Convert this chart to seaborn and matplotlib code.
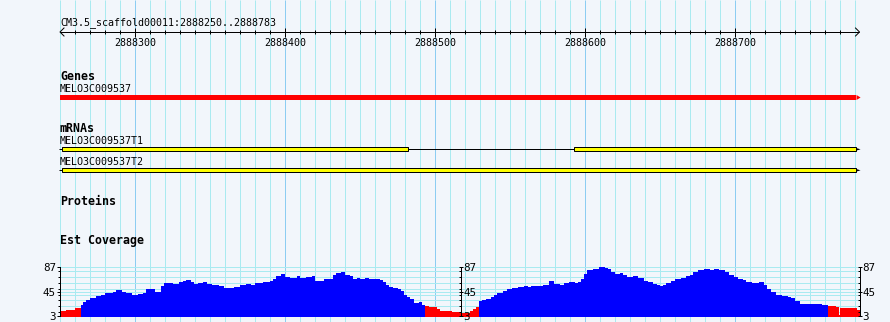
import numpy as np
import pandas as pd
import matplotlib
matplotlib.use("Agg")
import matplotlib.pyplot as plt
from matplotlib.ticker import FixedLocator
import seaborn as sns

# ---------------- data ----------------
region_name = "CM3.5_scaffold00011"
view_start = 2888250
view_end = 2888783
ruler_major = [2888300, 2888400, 2888500, 2888600, 2888700]

track_titles = ["Genes", "mRNAs", "Proteins", "Est Coverage"]

gene_name = "MELO3C009537"
gene_span = [2888250, 2888783]

mrna_names = ["MELO3C009537T1", "MELO3C009537T2"]
mrna_span = [[2888250, 2888783], [2888250, 2888783]]
mrna_exon_starts = [[2888251, 2888593], [2888251]]
mrna_exon_ends = [[2888484, 2888783], [2888783]]

# EST coverage as bedGraph-like steps (segment start, coverage)
cov_start = [
    2888250, 2888254, 2888260, 2888264, 2888265, 2888267, 2888270, 2888274, 2888277, 2888280,
    2888285, 2888287, 2888291, 2888294, 2888298, 2888302, 2888305, 2888307, 2888311, 2888313,
    2888317, 2888319, 2888325, 2888329, 2888332, 2888334, 2888337, 2888339, 2888342, 2888345,
    2888348, 2888351, 2888356, 2888359, 2888366, 2888370, 2888374, 2888377, 2888380, 2888385,
    2888390, 2888392, 2888394, 2888397, 2888400, 2888403, 2888408, 2888410, 2888414, 2888418,
    2888420, 2888423, 2888426, 2888429, 2888432, 2888434, 2888437, 2888440, 2888443, 2888445,
    2888448, 2888450, 2888453, 2888456, 2888463, 2888465, 2888467, 2888469, 2888472, 2888475,
    2888477, 2888479, 2888481, 2888483, 2888486, 2888489, 2888491, 2888493, 2888496, 2888499,
    2888501, 2888503, 2888511, 2888517, 2888523, 2888525, 2888527, 2888529, 2888531, 2888534,
    2888537, 2888539, 2888541, 2888545, 2888548, 2888551, 2888555, 2888559, 2888562, 2888564,
    2888568, 2888572, 2888576, 2888579, 2888583, 2888586, 2888589, 2888593, 2888595, 2888597,
    2888599, 2888601, 2888605, 2888609, 2888613, 2888615, 2888617, 2888620, 2888623, 2888625,
    2888628, 2888632, 2888635, 2888639, 2888642, 2888645, 2888648, 2888650, 2888652, 2888654,
    2888657, 2888660, 2888664, 2888667, 2888670, 2888672, 2888675, 2888679, 2888683, 2888686,
    2888689, 2888693, 2888696, 2888699, 2888702, 2888705, 2888707, 2888711, 2888716, 2888719,
    2888721, 2888724, 2888727, 2888731, 2888735, 2888737, 2888740, 2888743, 2888758, 2888762,
    2888767, 2888769, 2888770, 2888781,
]
cov_value = [
    12, 13, 17, 22, 27, 30, 33.5, 37, 40, 43,
    44.5, 48, 45, 42, 40, 41.5, 43, 49, 50, 45,
    55, 60, 58, 61, 63, 65, 62, 58, 60, 62,
    58, 56.5, 54, 51, 53.5, 56.5, 58, 56.5, 59.5, 61,
    63, 67.4, 72, 75, 71, 68.5, 72, 68.5, 69.5, 72,
    62.8, 64, 66, 67.4, 74.3, 77.7, 79, 74.3, 72, 67.4,
    68.5, 66.3, 68.5, 66.3, 64.5, 61.6, 57, 53, 51.5, 50,
    45.6, 38.7, 35.8, 31.8, 26, 27, 21.5, 20, 18.5, 19.2,
    15.6, 11.6, 9.5, 8, 11, 15.6, 18.5, 28.3, 30, 33,
    36.5, 38.7, 42.7, 45.6, 49, 51.3, 52.5, 54.2, 53, 55,
    54.2, 57, 62.8, 59, 57, 60, 61, 60.4, 61, 67.4,
    76, 81.8, 84.6, 87, 86, 84, 78.9, 76, 77.5, 73.2,
    70.3, 71.5, 68.5, 63.4, 62, 58.7, 56, 54.7, 57, 60,
    62.8, 67.4, 68, 72, 74, 78.9, 81.8, 84.6, 81.8, 84.6,
    82, 78.9, 73.2, 70.3, 67.4, 64.5, 61.6, 60.5, 61.6, 57,
    50, 44.4, 39.8, 37, 36, 34, 28.3, 24.2, 22.5, 19.7,
    18.5, 5, 16.8, 13,
]
cov_end = 2888783
cov_axis_pos = [2888250, 2888517, 2888783]
cov_ticks = [3, 45, 87]
cov_minor = [10, 20, 30, 40, 50, 60, 70, 80]
cov_pivot = 21

# ---------------- styling / layout ----------------
W, H, DPI = 890, 322, 100
PXW = 0.72                      # one pixel in points
BP_PER_PX = 1 / 1.5
LEFT_PX = 60
BG = "#F2F6FB"
GRID_MINOR = "#A9EAF0"
GRID_MAJOR = "#8CCDF2"
RED = "#FF0000"
BLUE = "#0000FF"
YELLOW = "#FFFF00"
FS = 7.18
FSB = 8.37

plt.rcParams["font.family"] = ["DejaVu Sans Mono", "DejaVu Sans"]

x0 = view_start - LEFT_PX * BP_PER_PX
x1 = x0 + W * BP_PER_PX
b = BP_PER_PX

fig = plt.figure(figsize=(W / DPI, H / DPI), dpi=DPI)
fig.patch.set_facecolor(BG)
ax = fig.add_axes([0, 0, 1, 1])
ax.set_xlim(x0, x1)
ax.set_ylim(H, 0)
ax.axis("off")

# vertical grid
for p in range(view_start, view_end, 10):
    col = GRID_MAJOR if p % 100 == 0 else GRID_MINOR
    ax.vlines(p, 0, H, color=col, lw=PXW, zorder=0, snap=True)

# ruler
ax.text(view_start, 25, f"{region_name}:{view_start}..{view_end}",
        ha="left", va="baseline", fontsize=FS)
ax.hlines(32, view_start, view_end, color="black", lw=PXW)
ax.plot([view_start + 4 * b, view_start, view_start + 4 * b], [28, 32, 36], color="black", lw=PXW)
ax.plot([view_end - 4 * b, view_end, view_end - 4 * b], [28, 32, 36], color="black", lw=PXW)
for p in range(view_start + 10, view_end - 10, 10):
    if p in ruler_major:
        ax.vlines(p, 28, 36.5, color="black", lw=PXW)
        ax.text(p, 45.7, str(p), ha="center", va="baseline", fontsize=FS)
    else:
        ax.vlines(p, 30, 34, color="black", lw=PXW)

# track titles
title_base = [80, 131.7, 205, 244.3]
for t, yb in zip(track_titles, title_base):
    ax.text(view_start, yb, t, ha="left", va="baseline", fontsize=FSB, fontweight="bold")

# gene
gs, ge = gene_span
ax.text(gs, 91.7, gene_name, ha="left", va="baseline", fontsize=FS)
ax.barh(97.5, (ge - 2) - gs, left=gs, height=5, color=RED, lw=0)
ax.fill([ge - 2, ge + 0.7, ge - 2], [95, 97.5, 100], color=RED, lw=0)

# mRNAs
mrna_label_base = [144.3, 165]
mrna_center = [149.3, 170.3]
for name, span, es, ee, lb, yc in zip(mrna_names, mrna_span, mrna_exon_starts,
                                      mrna_exon_ends, mrna_label_base, mrna_center):
    ax.text(span[0], lb, name, ha="left", va="baseline", fontsize=FS)
    ax.hlines(yc, span[0] - 1, span[1] - 1, color="black", lw=PXW, zorder=2)
    for s, e in zip(es, ee):
        ax.barh(yc, (e - 2) - s, left=s, height=4, color=YELLOW,
                edgecolor="black", lw=PXW, zorder=3)
    ax.fill([span[1] - 2, span[1] + 0.7, span[1] - 2], [yc - 1.2, yc, yc + 1.2],
            color="black", lw=0, zorder=3)

# coverage
top_px, bot_px = 267.3, 316
cax = fig.add_axes([LEFT_PX / W, 1 - bot_px / H, 800 / W, (bot_px - top_px) / H])
cax.patch.set_visible(False)
df = pd.DataFrame({"start": cov_start, "cov": cov_value})
df["level"] = np.where(df["cov"] < cov_pivot, "low", "high")
edges = list(cov_start) + [cov_end]
sns.histplot(data=df, x="start", weights="cov", bins=edges, hue="level",
             hue_order=["high", "low"], palette={"high": BLUE, "low": RED},
             multiple="layer", element="step", fill=True, alpha=1, linewidth=0,
             legend=False, ax=cax)
cax.set_xlim(view_start, view_start + 800 * b)
cax.set_ylim(3, 87)
cax.set_xlabel("")
cax.set_ylabel("")
cax.set_xticks([])
for sp in ["top", "bottom", "right"]:
    cax.spines[sp].set_visible(False)
cax.spines["left"].set_linewidth(PXW)
cax.spines["left"].set_zorder(6)
cax.set_yticks(cov_ticks)
cax.yaxis.set_minor_locator(FixedLocator(cov_minor))
cax.tick_params(axis="y", which="major", direction="out", length=3.5 * PXW,
                width=PXW, labelsize=7.8, pad=0.5)
cax.tick_params(axis="y", which="minor", direction="out", length=2 * PXW, width=PXW)
cax.set_axisbelow(True)
cax.yaxis.grid(True, which="both", color=GRID_MINOR, lw=PXW)

span_bp = 800 * b
for pos in cov_axis_pos[1:]:
    frac = (pos - view_start) / span_bp
    sec = cax.secondary_yaxis(frac)
    sec.set_zorder(10)
    sec.set_yticks(cov_ticks)
    sec.yaxis.set_minor_locator(FixedLocator(cov_minor))
    sec.tick_params(axis="y", which="major", direction="inout", length=5 * PXW,
                    width=PXW, labelsize=7.8, pad=0.3, labelcolor="black")
    sec.tick_params(axis="y", which="minor", direction="in", length=2.5 * PXW, width=PXW)
    for sp in sec.spines.values():
        sp.set_linewidth(PXW)

fig.savefig("out.png", dpi=DPI, facecolor=BG)
